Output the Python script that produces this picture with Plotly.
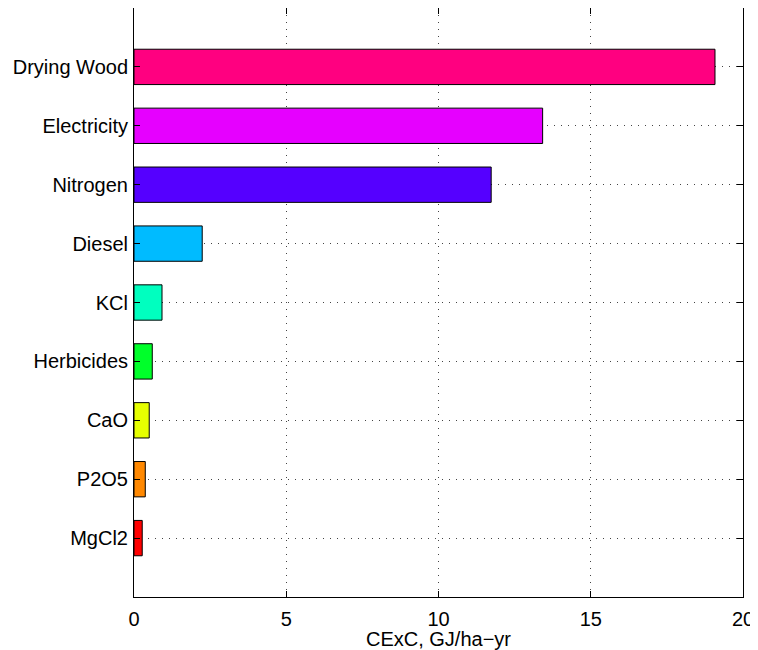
import plotly.graph_objects as go

categories = ["Drying Wood", "Electricity", "Nitrogen", "Diesel", "KCl",
              "Herbicides", "CaO", "P2O5", "MgCl2"]
values = [19.08, 13.42, 11.73, 2.24, 0.92, 0.60, 0.50, 0.37, 0.27]
colors = ["#FF0080", "#E600FF", "#5500FF", "#00BBFF", "#00FFBF",
          "#00FF2A", "#E6FF00", "#FF8800", "#FF0000"]
x_ticks = [0, 5, 10, 15, 20]

n = len(categories)
positions = [n - i for i in range(n)]

fig = go.Figure()
fig.add_trace(go.Bar(
    x=values, y=positions, orientation="h", width=0.6,
    marker=dict(color=colors, line=dict(color="black", width=1)),
    showlegend=False, hoverinfo="skip",
))

font = dict(family="Liberation Sans, Arial, sans-serif", size=20, color="black")

# page body has an 8px margin, so the figure is offset by (8, 8)
fig.update_layout(
    width=750, height=642,
    margin=dict(l=126, r=15, t=0, b=53, autoexpand=False),
    paper_bgcolor="white", plot_bgcolor="white",
    font=font,
    xaxis=dict(
        range=[0, 20], tickvals=x_ticks, ticktext=[str(t) for t in x_ticks],
        showline=True, linecolor="black", linewidth=1, mirror="ticks",
        ticks="inside", ticklen=6, tickcolor="black",
        showgrid=True, gridcolor="#444", griddash="1px,6px", gridwidth=1,
        zeroline=False, automargin=False, ticklabelstandoff=4,
        title=dict(text="CExC, GJ/ha\u2212yr", standoff=1, font=font),
        tickfont=font,
    ),
    yaxis=dict(
        range=[0, n + 1], tickvals=positions, ticktext=categories,
        showline=True, linecolor="black", linewidth=1, mirror="ticks",
        ticks="inside", ticklen=6, tickcolor="black",
        showgrid=True, gridcolor="#444", griddash="1px,6px", gridwidth=1,
        zeroline=False, tickfont=font, ticklabelstandoff=1, automargin=False,
    ),
)

fig.write_html("out.html")
